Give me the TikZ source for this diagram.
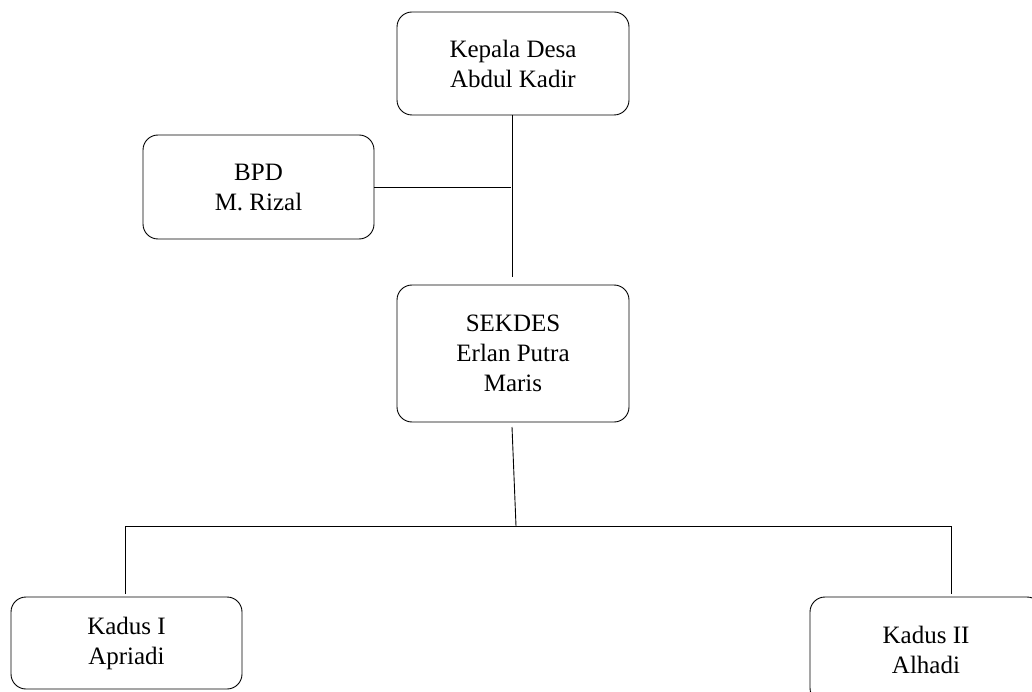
\documentclass[tikz,border=0pt]{standalone}
\usepackage{fontspec}
\setmainfont{Liberation Serif}
\begin{document}
\begin{tikzpicture}[x=1pt,y=-1pt,
  box/.style={draw, rounded corners=15pt, line width=0.9pt, align=center, inner sep=0pt,
    font=\fontsize{25}{30}\selectfont},
  conn/.style={line width=0.9pt}]
\clip (0,0) rectangle (1032,692);
\fill[white] (0,0) rectangle (1032,692);
\node[box, minimum width=232pt, minimum height=103pt] (kades) at (513,63.5) {Kepala Desa\\Abdul Kadir};
\node[box, minimum width=231pt, minimum height=104pt] (bpd) at (258.5,187) {BPD\\M. Rizal};
\node[box, minimum width=232pt, minimum height=137pt] (sekdes) at (513,353.5) {SEKDES\\Erlan Putra\\Maris};
\node[box, minimum width=231pt, minimum height=92pt] (k1) at (126.5,643) {Kadus I\\Apriadi};
\node[box, minimum width=232pt, minimum height=106pt] (k2) at (926,650) {Kadus II\\Alhadi};
\coordinate (v1) at (512,277);
\coordinate (v0) at (512,115);
\coordinate (j1) at (511,187);
\coordinate (s0) at (512,427);
\coordinate (s1) at (516,526);
\coordinate (hl) at (125,526);
\coordinate (hr) at (951,526);
\coordinate (e1) at (125,594);
\coordinate (e2) at (951,594);
\draw[conn] (v0) -- (v1);
\draw[conn] (bpd.east) -- (j1);
\draw[conn] (s0) -- (s1);
\draw[conn] (e1) -- (hl) -- (hr) -- (e2);
\end{tikzpicture}
\end{document}
